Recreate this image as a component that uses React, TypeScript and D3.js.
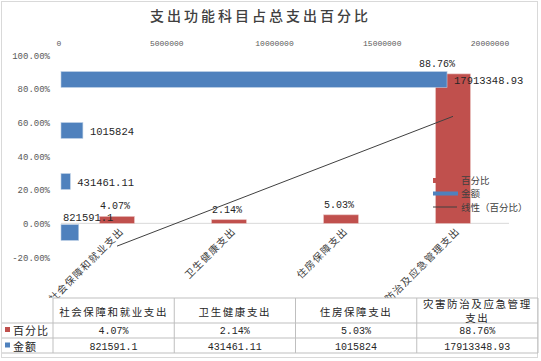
import React from "react";
import * as d3 from "d3";

const categories = ["社会保障和就业支出", "卫生健康支出", "住房保障支出", "灾害防治及应急管理支出"];
const percentValues = [4.07, 2.14, 5.03, 88.76];
const amountValues = [821591.1, 431461.11, 1015824, 17913348.93];
const amountLabels = ["821591.1", "431461.11", "1015824", "17913348.93"];
const pctTicks = [-20, 0, 20, 40, 60, 80, 100];
const amtTicks = [0, 5000000, 10000000, 15000000, 20000000];
const seriesNames = ["百分比", "金额", "线性（百分比）"];
const title = "支出功能科目占总支出百分比";

const RED = "#C0504D";
const BLUE = "#4F81BD";
const CJK = "'Noto Sans CJK SC', sans-serif";
const MONO = "'Liberation Mono', 'DejaVu Sans Mono', monospace";

export default function App() {
  const W = 541, H = 361;
  const x = d3.scaleBand<string>().domain(categories).range([61, 509]).paddingInner(0.69).paddingOuter(0.345);
  const step = x.step();
  const cx = (c: string) => (x(c) as number) + x.bandwidth() / 2;
  const y = d3.scaleLinear().domain([-20, 100]).range([257, 55]);
  const xa = d3.scaleLinear().domain([0, 20000000]).range([61, 492]);
  const ya = d3.scaleBand<string>().domain(categories).range([258, 54]).paddingInner(0.69).paddingOuter(0.345);

  // linear trendline (least squares on category index)
  const n = percentValues.length;
  const xs = percentValues.map((_, i) => i + 1);
  const mx = d3.mean(xs) as number;
  const my = d3.mean(percentValues) as number;
  const slope = d3.sum(xs.map((xi, i) => (xi - mx) * (percentValues[i] - my))) / d3.sum(xs.map((xi) => (xi - mx) ** 2));
  const icpt = my - slope * mx;
  const trend = d3.line<number>().x((_, i) => cx(categories[i])).y((xi) => y(icpt + slope * xi));

  const fmtPct = (v: number) => v.toFixed(2) + "%";

  // table
  const tx = d3.scaleBand<string>().domain(categories).range([53, 538]);
  const rowY = [298, 323, 338, 353];

  const wrap = (s: string) => (s.length > 9 ? [s.slice(0, 9), s.slice(9)] : [s]);

  return (
    <svg width={W} height={H} style={{ position: "absolute", left: 0, top: 0, background: "#fff" }}>
      <rect x={1.5} y={1.5} width={536} height={356} fill="#fff" stroke="#D9D9D9" />
      <text x={W / 2 - 10} y={21} textAnchor="middle" fontFamily={CJK} fontSize={14} letterSpacing={3} fill="#404040" fontWeight={500}>
        {title}
      </text>

      {/* left axis labels */}
      {pctTicks.map((t) => (
        <text key={t} x={50} y={y(t) + 3.5} textAnchor="end" fontFamily={MONO} fontSize={9} fill="#595959">
          {fmtPct(t)}
        </text>
      ))}
      {/* top axis labels */}
      {amtTicks.map((t) => (
        <text key={t} x={xa(t) - 2} y={46} textAnchor="middle" fontFamily={MONO} fontSize={8} fill="#595959">
          {String(t)}
        </text>
      ))}

      {/* zero line */}
      <line x1={61} x2={509} y1={y(0)} y2={y(0)} stroke="#D9D9D9" />

      {/* category labels */}
      {categories.map((c) => (
        <text
          key={c}
          transform={`translate(${cx(c) + 5},${y(0) + 6}) rotate(-45)`}
          textAnchor="end"
          dy="0.35em"
          fontFamily={CJK}
          fontSize={10}
          letterSpacing={1.2}
          fill="#404040"
        >
          {c}
        </text>
      ))}

      {/* red bars */}
      {categories.map((c, i) => (
        <rect
          key={c}
          x={x(c)}
          y={y(Math.max(0, percentValues[i]))}
          width={x.bandwidth()}
          height={Math.abs(y(percentValues[i]) - y(0))}
          fill={RED}
          stroke="#E6B9B8"
          strokeWidth={0.6}
        />
      ))}
      {/* red labels */}
      {categories.map((c, i) => (
        <text
          key={c}
          x={i === 3 ? cx(c) - 16 : cx(c) - 2}
          y={y(percentValues[i]) - 7}
          textAnchor="middle"
          fontFamily={MONO}
          fontSize={10}
          fill="#262626"
        >
          {fmtPct(percentValues[i])}
        </text>
      ))}

      {/* trendline */}
      <path d={trend(xs) as string} fill="none" stroke="#404040" strokeWidth={1} />

      {/* blue bars */}
      {categories.map((c, i) => (
        <rect
          key={c}
          x={xa(0)}
          y={ya(c)}
          width={xa(amountValues[i]) - xa(0)}
          height={ya.bandwidth()}
          fill={BLUE}
          stroke="#B9CDE5"
          strokeWidth={0.6}
        />
      ))}
      {categories.map((c, i) => {
        const top = ya(c) as number;
        const first = i === 0;
        return (
          <text
            key={c}
            x={first ? xa(0) + 2 : xa(amountValues[i]) + 7}
            y={first ? top - 4 : top + ya.bandwidth() / 2 + 4}
            fontFamily={MONO}
            fontSize={10.5}
            fill="#262626"
          >
            {amountLabels[i]}
          </text>
        );
      })}

      {/* legend */}
      <g fontFamily={CJK} fontSize={9.5} fill="#404040">
        <rect x={433} y={178} width={5} height={5} fill={RED} />
        <text x={461} y={183.5}>{seriesNames[0]}</text>
        <rect x={433} y={191.5} width={25} height={4} fill={BLUE} />
        <text x={461} y={197}>{seriesNames[1]}</text>
        <line x1={433} x2={457} y1={207} y2={207} stroke="#404040" />
        <text x={461} y={210.5}>{seriesNames[2]}</text>
      </g>

      {/* data table */}
      <rect x={2} y={rowY[0]} width={535} height={rowY[3] - rowY[0]} fill="#fff" />
      <g stroke="#BFBFBF" strokeWidth={1}>
        <line x1={53} x2={538} y1={rowY[0]} y2={rowY[0]} />
        <line x1={2} x2={538} y1={rowY[1]} y2={rowY[1]} />
        <line x1={2} x2={538} y1={rowY[2]} y2={rowY[2]} />
        <line x1={2} x2={538} y1={rowY[3]} y2={rowY[3]} />
        <line x1={53} x2={53} y1={rowY[0]} y2={rowY[3]} />
        {categories.map((c) => (
          <line key={c} x1={(tx(c) as number) + tx.bandwidth()} x2={(tx(c) as number) + tx.bandwidth()} y1={rowY[0]} y2={rowY[3]} />
        ))}
      </g>
      {categories.map((c) => {
        const lines = wrap(c);
        const mid = (tx(c) as number) + tx.bandwidth() / 2;
        return lines.map((l, k) => (
          <text
            key={c + k}
            x={mid}
            y={lines.length === 1 ? 315.5 : 308 + k * 14}
            textAnchor="middle"
            fontFamily={CJK}
            fontSize={10.5}
            letterSpacing={1.6}
            fill="#262626"
          >
            {l}
          </text>
        ));
      })}
      {categories.map((c, i) => (
        <text key={c} x={(tx(c) as number) + tx.bandwidth() / 2} y={334} textAnchor="middle" fontFamily={MONO} fontSize={10} fill="#262626">
          {fmtPct(percentValues[i])}
        </text>
      ))}
      {categories.map((c, i) => (
        <text key={c} x={(tx(c) as number) + tx.bandwidth() / 2} y={349.5} textAnchor="middle" fontFamily={MONO} fontSize={10} fill="#262626">
          {amountLabels[i]}
        </text>
      ))}
      <rect x={5} y={327} width={5} height={5} fill={RED} />
      <text x={13} y={335} fontFamily={CJK} fontSize={11} letterSpacing={1} fill="#262626">{seriesNames[0]}</text>
      <rect x={5} y={342.5} width={5} height={5} fill={BLUE} />
      <text x={13} y={350.5} fontFamily={CJK} fontSize={11} letterSpacing={1} fill="#262626">{seriesNames[1]}</text>
    </svg>
  );
}
